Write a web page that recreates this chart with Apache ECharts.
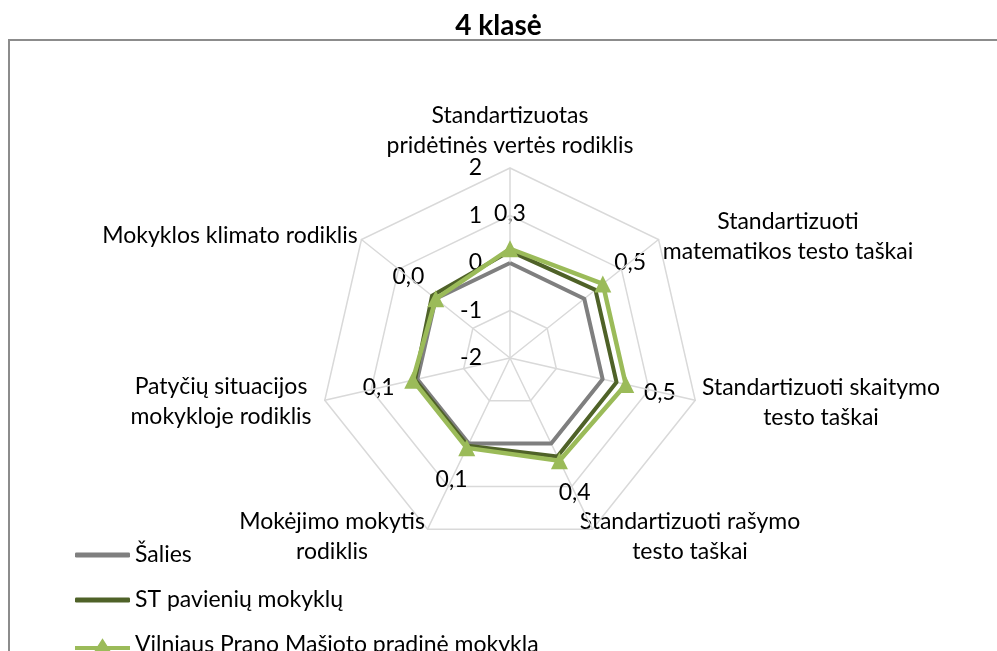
<!DOCTYPE html>
<html lang="lt">
   <head>
      <title>4 klasė</title>
      <meta charset="utf-8">
      <script src="https://cdn.jsdelivr.net/npm/echarts@6/dist/echarts.min.js"></script>
   </head>
   <body style="margin:0;background:#fff">
      <div id="chart" style="width:997px;height:651px;"></div>
      <script type="text/javascript">
         // indicators, clockwise from the top (as in the picture)
         const indicatorNames = [
             'Standartizuotas\npridėtinės vertės rodiklis',
             'Standartizuoti\nmatematikos testo taškai',
             'Standartizuoti skaitymo\ntesto taškai',
             'Standartizuoti rašymo\ntesto taškai',
             'Mokėjimo mokytis\nrodiklis',
             'Patyčių situacijos\nmokykloje rodiklis',
             'Mokyklos klimato rodiklis'
         ];
         const seriesNames = ['Šalies', 'ST pavienių mokyklų', 'Vilniaus Prano Mašioto pradinė mokykla'];
         const saliesValues = [0, 0, 0, 0, 0, 0, 0];
         const stValues = [0.25, 0.3, 0.3, 0.3, 0.05, 0.05, 0.1];
         const vilniusValues = [0.3, 0.5, 0.5, 0.4, 0.1, 0.1, 0.0];
         const axisMin = -2, axisMax = 2;

         // echarts lays radar axes out counter-clockwise, so reorder
         const order = [0, 6, 5, 4, 3, 2, 1];
         const reorder = arr => order.map(i => arr[i]);

         const colors = ['#7f7f7f', '#4f6228', '#9bbb59'];
         const font = 'Lato, "Open Sans", sans-serif';
         const fs = 23;

         // where the indicator names sit (centre of each text block), clockwise
         const namePos = [[510, 131], [788, 237], [821, 403], [690, 537], [332, 537], [221, 402], [230, 236]];

         let chart = echarts.init(document.getElementById('chart'));

         let indicators = order.map(function (i, k) {
             let ind = { name: indicatorNames[i], min: axisMin, max: axisMax };
             if (k > 0) ind.axisLabel = { show: false };
             return ind;
         });

         // legend icon: line with a triangle marker
         const triIcon = 'path://M0,8 L23,8 L28,0 L33,8 L56,8 L56,12 L35.4,12 L37,14 L19,14 L20.6,12 L0,12 Z';
         const legendText = { fontFamily: font, fontSize: fs, color: '#000', lineHeight: 26 };

         let option = {
             animation: false,
             color: colors,
             title: {
                 text: '4 klasė',
                 left: 'center',
                 top: 7,
                 textStyle: { fontFamily: font, fontSize: 28, fontWeight: 'bold', color: '#000' }
             },
             legend: [{
                 data: [seriesNames[0], seriesNames[1]],
                 orient: 'vertical',
                 left: 75,
                 top: 542,
                 padding: 0,
                 icon: 'roundRect',
                 itemWidth: 55,
                 itemHeight: 5,
                 itemGap: 19,
                 textStyle: legendText
             }, {
                 data: [seriesNames[2]],
                 orient: 'vertical',
                 left: 75,
                 top: 632,
                 padding: 0,
                 icon: triIcon,
                 itemWidth: 55,
                 itemHeight: 14,
                 textStyle: legendText
             }],
             radar: {
                 center: [510, 358],
                 radius: 190,
                 shape: 'polygon',
                 splitNumber: 4,
                 startAngle: 90,
                 indicator: indicators,
                 axisName: { show: false },
                 axisLine: { lineStyle: { color: '#d9d9d9', width: 1.5 } },
                 splitLine: { lineStyle: { color: '#d9d9d9', width: 1.5 } },
                 splitArea: { show: false },
                 axisTick: { show: false },
                 axisLabel: {
                     show: true,
                     showMinLabel: true,
                     showMaxLabel: true,
                     fontFamily: font,
                     fontSize: fs,
                     color: '#000',
                     margin: 28,
                     padding: [8, 0, 0, 0]
                 }
             },
             series: [{
                 type: 'radar',
                 symbol: 'none',
                 z: 2,
                 data: [
                     {
                         name: seriesNames[0], value: reorder(saliesValues),
                         lineStyle: { color: colors[0], width: 4 }, itemStyle: { color: colors[0] }
                     },
                     {
                         name: seriesNames[1], value: reorder(stValues),
                         lineStyle: { color: colors[1], width: 4 }, itemStyle: { color: colors[1] }
                     }
                 ]
             }, {
                 type: 'radar',
                 z: 3,
                 data: [{
                     name: seriesNames[2], value: reorder(vilniusValues),
                     symbol: 'triangle',
                     symbolSize: 17,
                     lineStyle: { color: colors[2], width: 4.5 },
                     itemStyle: { color: colors[2] }
                 }]
             }]
         };

         chart.setOption(option);

         // indicator names and the Vilnius data labels, pushed outward along each axis
         let radarCs = chart.getModel().getComponent('radar').coordinateSystem;
         let cx = radarCs.cx, cy = radarCs.cy;
         let graphics = [{
             type: 'rect',
             silent: true,
             shape: { x: 9, y: 40, width: 1100, height: 800 },
             style: { fill: null, stroke: '#8c8c8c', lineWidth: 2 }
         }];

         order.forEach(function (i, k) {
             graphics.push({
                 type: 'text',
                 silent: true,
                 x: namePos[i][0],
                 y: namePos[i][1],
                 style: {
                     text: indicatorNames[i],
                     fontFamily: font, fontSize: fs, lineHeight: 30,
                     fill: '#000', align: 'center', verticalAlign: 'middle'
                 }
             });

             let v = vilniusValues[i];
             let q = radarCs.dataToPoint(v, k);
             let qx = q[0] - cx, qy = q[1] - cy;
             let ql = Math.sqrt(qx * qx + qy * qy);
             graphics.push({
                 type: 'text',
                 silent: true,
                 x: q[0] + qx / ql * 35,
                 y: q[1] + qy / ql * 35,
                 style: {
                     text: v.toFixed(1).replace('.', ','),
                     fontFamily: font, fontSize: fs,
                     fill: '#000', align: 'center', verticalAlign: 'middle'
                 }
             });
         });

         chart.setOption({ graphic: graphics });
      </script>
   </body>
</html>
